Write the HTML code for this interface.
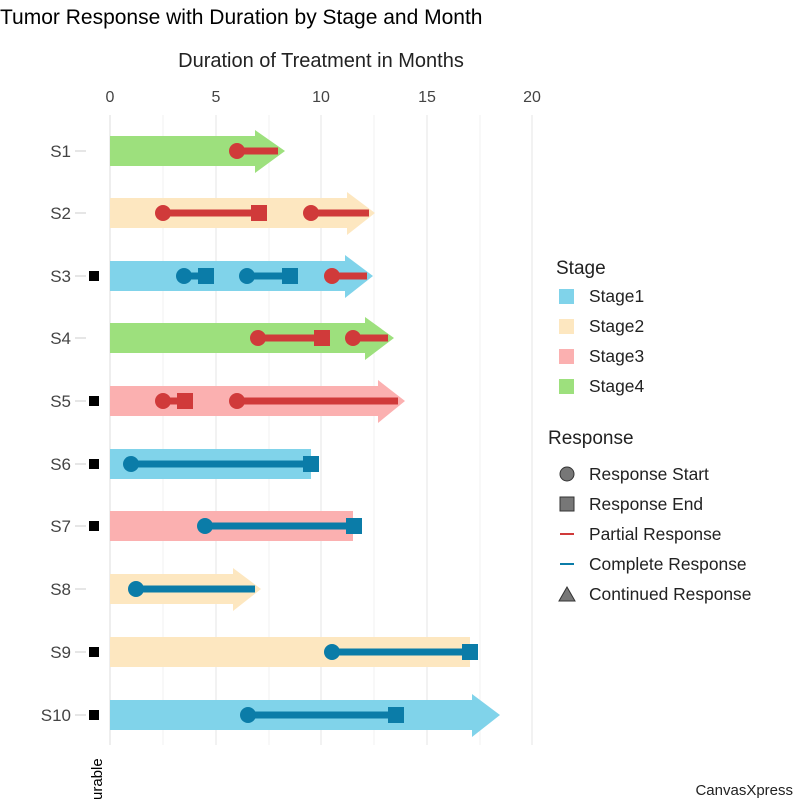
<!DOCTYPE html>
<html><head><style>body{margin:0;background:#fff}svg{display:block;font-family:"Liberation Sans",Arial,sans-serif}</style></head><body>
<svg width="800" height="800" viewBox="0 0 800 800">
<text x="0" y="24" font-size="21" fill="#000">Tumor Response with Duration by Stage and Month</text>
<text x="321" y="67" font-size="20" text-anchor="middle" fill="#222">Duration of Treatment in Months</text>
<g font-size="16" fill="#444" text-anchor="middle">
<text x="110" y="102">0</text><text x="216" y="102">5</text><text x="321" y="102">10</text><text x="427" y="102">15</text><text x="532" y="102">20</text></g>
<g stroke="#e6e6e6" stroke-width="1">
<line x1="110" y1="115" x2="110" y2="745" stroke="#ddd"/><line x1="163" y1="115" x2="163" y2="745" stroke="#f2f2f2"/><line x1="216" y1="115" x2="216" y2="745"/><line x1="269" y1="115" x2="269" y2="745" stroke="#f2f2f2"/><line x1="321" y1="115" x2="321" y2="745"/><line x1="374" y1="115" x2="374" y2="745" stroke="#f2f2f2"/><line x1="427" y1="115" x2="427" y2="745"/><line x1="480" y1="115" x2="480" y2="745" stroke="#f2f2f2"/><line x1="532" y1="115" x2="532" y2="745"/></g>
<g font-size="17" fill="#444" text-anchor="end">
<text x="71" y="157">S1</text><text x="71" y="219">S2</text><text x="71" y="282">S3</text><text x="71" y="344">S4</text><text x="71" y="407">S5</text><text x="71" y="470">S6</text><text x="71" y="532">S7</text><text x="71" y="595">S8</text><text x="71" y="658">S9</text><text x="71" y="721">S10</text></g>
<g stroke="#ccc"><line x1="75" y1="151" x2="86" y2="151"/><line x1="75" y1="213" x2="86" y2="213"/><line x1="75" y1="276" x2="86" y2="276"/><line x1="75" y1="338" x2="86" y2="338"/><line x1="75" y1="401" x2="86" y2="401"/><line x1="75" y1="464" x2="86" y2="464"/><line x1="75" y1="526" x2="86" y2="526"/><line x1="75" y1="589" x2="86" y2="589"/><line x1="75" y1="652" x2="86" y2="652"/><line x1="75" y1="715" x2="86" y2="715"/></g>
<g fill="#000"><rect x="89" y="271" width="10" height="10"/><rect x="89" y="396" width="10" height="10"/><rect x="89" y="459" width="10" height="10"/><rect x="89" y="521" width="10" height="10"/><rect x="89" y="647" width="10" height="10"/><rect x="89" y="710" width="10" height="10"/></g>
<text transform="translate(102,800) rotate(-90)" font-size="15" fill="#000">urable</text>
<g>
<polygon points="110,136 255,136 255,130 285,151 255,173 255,166 110,166" fill="#9de07d"/>
<polygon points="110,198 347,198 347,192 375,213 347,235 347,228 110,228" fill="#fde7c0"/>
<polygon points="110,261 345,261 345,255 373,276 345,298 345,291 110,291" fill="#80d3ea"/>
<polygon points="110,323 365,323 365,317 394,338 365,360 365,353 110,353" fill="#9de07d"/>
<polygon points="110,386 378,386 378,380 405,401 378,423 378,416 110,416" fill="#fbb0b0"/>
<rect x="110" y="449" width="201" height="30" fill="#80d3ea"/>
<rect x="110" y="511" width="243" height="30" fill="#fbb0b0"/>
<polygon points="110,574 233,574 233,568 261,589 233,611 233,604 110,604" fill="#fde7c0"/>
<rect x="110" y="637" width="360" height="30" fill="#fde7c0"/>
<polygon points="110,700 472,700 472,694 500,715 472,737 472,730 110,730" fill="#80d3ea"/>
</g>
<g stroke-width="7">
<g stroke="#d03a3a" fill="#d03a3a">
<line x1="237" y1="151" x2="278" y2="151"/><circle cx="237" cy="151" r="8" stroke="none"/>
<line x1="163" y1="213" x2="259" y2="213"/><circle cx="163" cy="213" r="8" stroke="none"/><rect x="251" y="205" width="16" height="16" stroke="none"/>
<line x1="311" y1="213" x2="369" y2="213"/><circle cx="311" cy="213" r="8" stroke="none"/>
<line x1="332" y1="276" x2="367" y2="276"/><circle cx="332" cy="276" r="8" stroke="none"/>
<line x1="258" y1="338" x2="322" y2="338"/><circle cx="258" cy="338" r="8" stroke="none"/><rect x="314" y="330" width="16" height="16" stroke="none"/>
<line x1="353" y1="338" x2="388" y2="338"/><circle cx="353" cy="338" r="8" stroke="none"/>
<line x1="163" y1="401" x2="185" y2="401"/><circle cx="163" cy="401" r="8" stroke="none"/><rect x="177" y="393" width="16" height="16" stroke="none"/>
<line x1="237" y1="401" x2="398" y2="401"/><circle cx="237" cy="401" r="8" stroke="none"/>
</g>
<g stroke="#0b7ca8" fill="#0b7ca8">
<line x1="184" y1="276" x2="206" y2="276"/><circle cx="184" cy="276" r="8" stroke="none"/><rect x="198" y="268" width="16" height="16" stroke="none"/>
<line x1="247" y1="276" x2="290" y2="276"/><circle cx="247" cy="276" r="8" stroke="none"/><rect x="282" y="268" width="16" height="16" stroke="none"/>
<line x1="131" y1="464" x2="311" y2="464"/><circle cx="131" cy="464" r="8" stroke="none"/><rect x="303" y="456" width="16" height="16" stroke="none"/>
<line x1="205" y1="526" x2="354" y2="526"/><circle cx="205" cy="526" r="8" stroke="none"/><rect x="346" y="518" width="16" height="16" stroke="none"/>
<line x1="136" y1="589" x2="255" y2="589"/><circle cx="136" cy="589" r="8" stroke="none"/>
<line x1="332" y1="652" x2="470" y2="652"/><circle cx="332" cy="652" r="8" stroke="none"/><rect x="462" y="644" width="16" height="16" stroke="none"/>
<line x1="248" y1="715" x2="396" y2="715"/><circle cx="248" cy="715" r="8" stroke="none"/><rect x="388" y="707" width="16" height="16" stroke="none"/>
</g></g>
<text x="556" y="274" font-size="19" fill="#222">Stage</text>
<g font-size="17.4" fill="#222">
<rect x="559" y="289" width="15" height="15" fill="#80d3ea"/><text x="589" y="302">Stage1</text>
<rect x="559" y="319" width="15" height="15" fill="#fde7c0"/><text x="589" y="332">Stage2</text>
<rect x="559" y="349" width="15" height="15" fill="#fbb0b0"/><text x="589" y="362">Stage3</text>
<rect x="559" y="379" width="15" height="15" fill="#9de07d"/><text x="589" y="392">Stage4</text>
</g>
<text x="548" y="444" font-size="19" fill="#222">Response</text>
<g font-size="17.4" fill="#222">
<circle cx="567" cy="474" r="7" fill="#777" stroke="#333"/><text x="589" y="480">Response Start</text>
<rect x="560" y="497" width="14" height="14" fill="#777" stroke="#333"/><text x="589" y="510">Response End</text>
<line x1="560" y1="534" x2="574" y2="534" stroke="#d03a3a" stroke-width="2"/><text x="589" y="540">Partial Response</text>
<line x1="560" y1="564" x2="574" y2="564" stroke="#0b7ca8" stroke-width="2"/><text x="589" y="570">Complete Response</text>
<polygon points="567,587 575,601 559,601" fill="#777" stroke="#333"/><text x="589" y="600">Continued Response</text>
</g>
<text x="793" y="795" font-size="15" text-anchor="end" fill="#222">CanvasXpress</text>
</svg></body></html>
